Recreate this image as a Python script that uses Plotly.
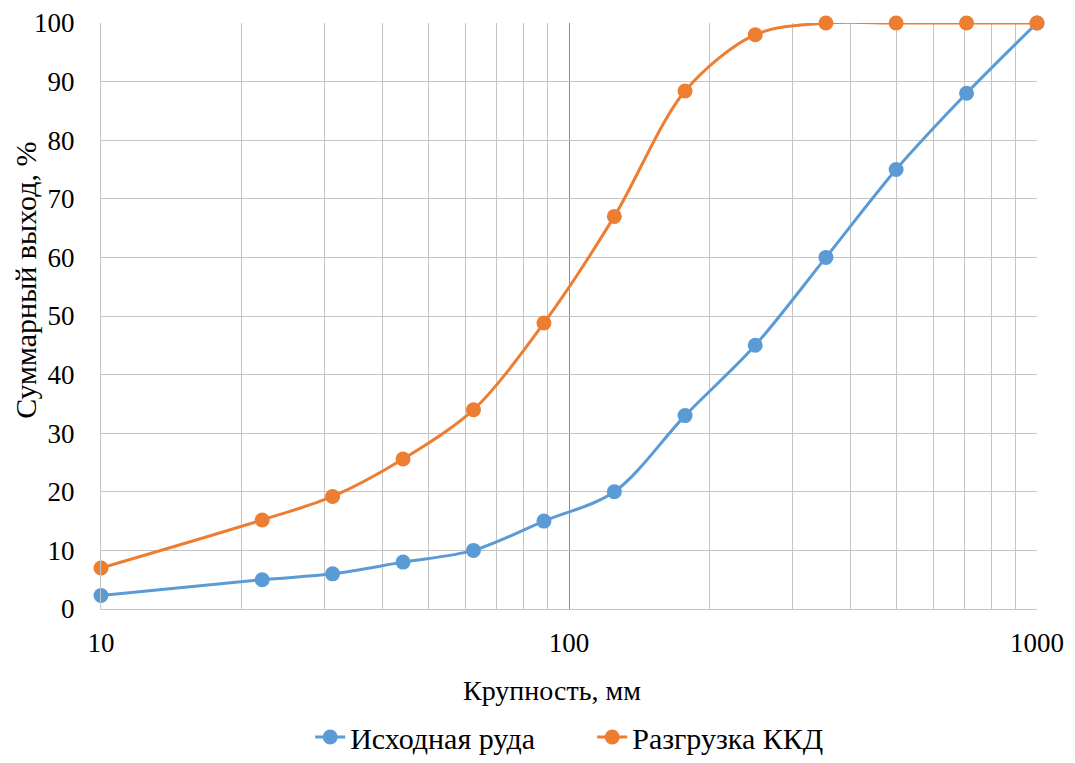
import plotly.graph_objects as go

# Particle size, mm
size_mm = [10, 22.1, 31.25, 44.2, 62.5, 88.4, 125, 177, 250, 354, 500, 707, 1000]

# Cumulative passing, %
feed_ore = [2.3, 5, 6, 8, 10, 15, 20, 33, 45, 60, 75, 88, 100]
crusher_discharge = [7, 15.2, 19.2, 25.6, 34, 48.8, 67, 88.4, 98, 100, 100, 100, 100]

series_names = ["Исходная руда", "Разгрузка ККД"]
x_ticks = [10, 100, 1000]
y_ticks = list(range(0, 101, 10))
x_title = "Крупность, мм"
y_title = "Суммарный выход, %"

FONT = "Liberation Serif"
BLUE = "#5B9BD5"
ORANGE = "#ED7D31"
LIGHT = "#C4C4C4"
DARK = "#8C8C8C"

fig = go.Figure()
for name, vals, color in [(series_names[0], feed_ore, BLUE),
                          (series_names[1], crusher_discharge, ORANGE)]:
    fig.add_trace(go.Scatter(
        x=size_mm, y=vals, name=name, mode="lines+markers",
        line=dict(color=color, width=3, shape="spline", smoothing=0.9),
        marker=dict(color=color, size=15),
        cliponaxis=False,
    ))

fig.update_layout(
    width=1075, height=763,
    margin=dict(l=101, r=38, t=23, b=154, autoexpand=False),
    paper_bgcolor="white", plot_bgcolor="white",
    font=dict(family=FONT, size=27, color="black"),
    legend=dict(orientation="h", x=0.2235, xanchor="left",
                yref="container", y=0.0, yanchor="bottom",
                font=dict(family=FONT, size=30), traceorder="normal",
                itemsizing="trace", entrywidth=237, entrywidthmode="pixels"),
    showlegend=True,
)

# Axis titles placed as annotations relative to the plot area
fig.add_annotation(text=x_title, xref="paper", yref="paper", x=0.482, y=0,
                   yshift=-81, xanchor="center", yanchor="middle",
                   showarrow=False, font=dict(family=FONT, size=28))
fig.add_annotation(text=y_title, xref="paper", yref="paper", x=0, y=0.56,
                   xshift=-75, xanchor="center", yanchor="middle", textangle=-90,
                   showarrow=False, font=dict(family=FONT, size=30))

fig.update_xaxes(
    type="log", range=[1, 3], automargin=False,
    tickvals=x_ticks, ticktext=[str(v) for v in x_ticks],
    tickfont=dict(family=FONT, size=27),
    showgrid=True, gridcolor=DARK, gridwidth=1.3,
    minor=dict(showgrid=True, gridcolor=LIGHT, gridwidth=1.3, dtick="D1"),
    showline=True, linecolor=LIGHT, linewidth=1.3, mirror=False,
    ticks="outside", ticklen=9, tickcolor="rgba(0,0,0,0)",
    zeroline=False,
)
fig.update_yaxes(
    range=[0, 100], tickvals=y_ticks, automargin=False,
    tickfont=dict(family=FONT, size=27),
    showgrid=True, gridcolor=LIGHT, gridwidth=1.3,
    showline=True, linecolor=LIGHT, linewidth=1.3,
    ticks="outside", ticklen=20, tickcolor="rgba(0,0,0,0)",
    zeroline=False,
)

fig.write_html("out.html")
